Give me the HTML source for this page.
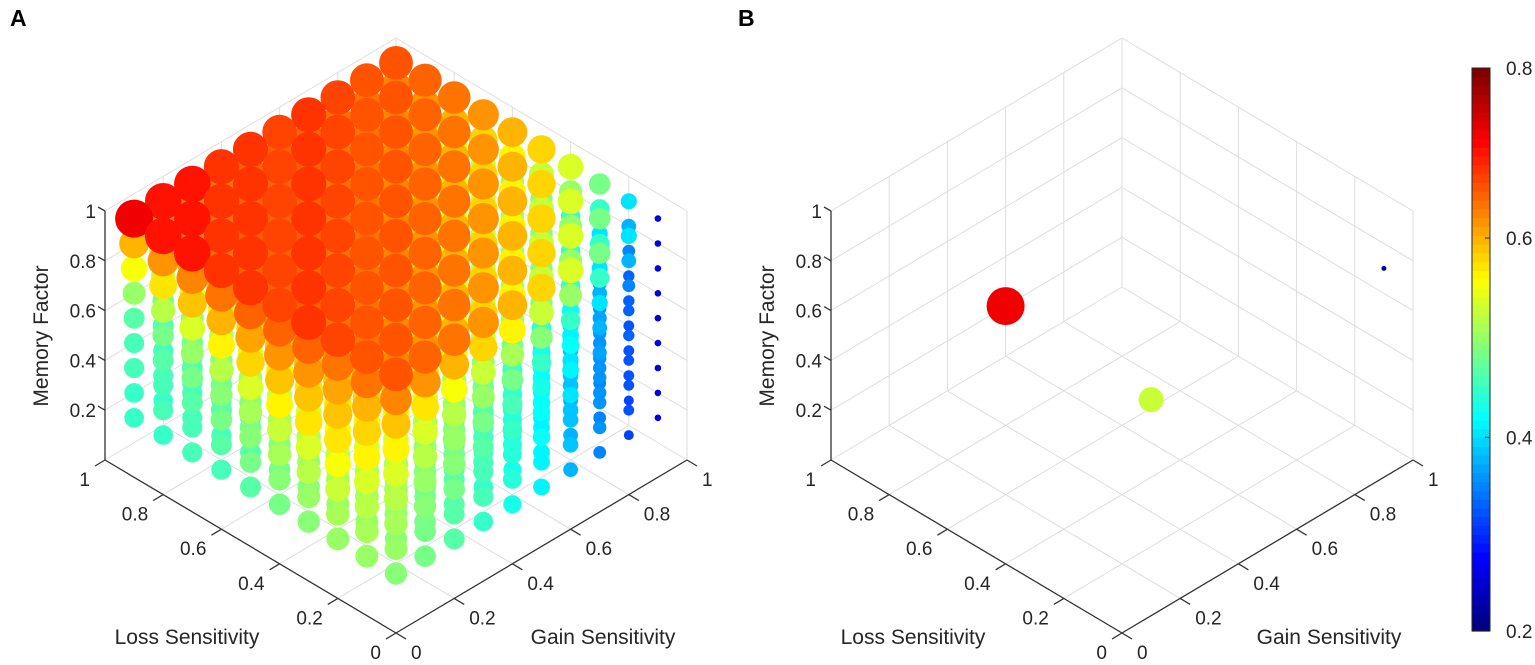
<!DOCTYPE html>
<html><head><meta charset="utf-8"><style>
html,body{margin:0;padding:0;background:#fff;}
svg{display:block;font-family:"Liberation Sans",Arial,sans-serif;}
</style></head><body>
<svg id="fig" width="1535" height="665" viewBox="0 0 1535 665" xmlns="http://www.w3.org/2000/svg">
<text x="10" y="26" font-size="23" font-weight="bold" fill="#000">A</text>
<text x="738" y="26" font-size="23" font-weight="bold" fill="#000">B</text>
<g id="pa"></g>
<g id="pb"></g>
<g id="cb"></g>
</svg>
<script>
// ---- data ----
const lossLevels = [0.1,0.2,0.3,0.4,0.5,0.6,0.7,0.8,0.9,1.0];
const gainLevels = [0.1,0.2,0.3,0.4,0.5,0.6,0.7,0.8,0.9,1.0];
const memoryLevels = [0.1,0.2,0.3,0.4,0.5,0.6,0.7,0.8,0.9];
// rows: memory 0.1..0.9 ; columns: (gain - loss) = -0.9 .. 0.9
const valuesByMemoryAndDiff = [
 [.45,.45,.46,.46,.47,.48,.49,.50,.50,.49,.48,.47,.45,.43,.41,.38,.35,.31,.26],
 [.45,.46,.46,.47,.48,.49,.50,.51,.51,.50,.48,.47,.46,.44,.41,.39,.36,.32,.26],
 [.46,.46,.47,.48,.49,.51,.52,.53,.52,.51,.49,.48,.46,.44,.42,.39,.36,.32,.26],
 [.46,.47,.48,.49,.51,.53,.54,.55,.54,.52,.50,.49,.47,.45,.42,.40,.36,.32,.26],
 [.47,.48,.50,.52,.54,.56,.57,.57,.56,.54,.52,.50,.48,.46,.43,.41,.37,.33,.26],
 [.50,.52,.54,.56,.58,.59,.59,.59,.58,.56,.54,.52,.50,.48,.45,.42,.38,.33,.26],
 [.55,.57,.59,.60,.61,.62,.62,.61,.60,.59,.57,.55,.53,.51,.49,.45,.40,.35,.26],
 [.60,.62,.63,.64,.65,.65,.65,.64,.64,.63,.62,.60,.58,.56,.53,.50,.45,.38,.26],
 [.72,.70,.70,.68,.68,.67,.68,.67,.66,.66,.65,.64,.62,.60,.58,.54,.48,.40,.26]
];
// panel B points
const bLoss = [0.9, 0.2, 0.1];
const bGain = [0.5, 0.3, 1.0];
const bMemory = [0.34, 0.59, 0.70];
const bValue = [0.72, 0.53, 0.22];
// axis ticks
const axisTicks = [0,0.2,0.4,0.6,0.8,1];
const axisTickLabels = ["0","0.2","0.4","0.6","0.8","1"];
const memTicks = [0.2,0.4,0.6,0.8,1];
const memTickLabels = ["0.2","0.4","0.6","0.8","1"];
const cbTicks = [0.2,0.4,0.6,0.8];
const cbTickLabels = ["0.2","0.4","0.6","0.8"];
const cbTickFrac = [0,0.344,0.698,1];

const NS="http://www.w3.org/2000/svg";
function mk(tag,attrs,parent){const e=document.createElementNS(NS,tag);for(const k in attrs)e.setAttribute(k,attrs[k]);parent.appendChild(e);return e;}
function clamp(x){return Math.max(0,Math.min(1,x));}
function valToFrac(v){
  for(let i=0;i<cbTicks.length-1;i++){
    if(v<=cbTicks[i+1]||i===cbTicks.length-2){
      const t=(v-cbTicks[i])/(cbTicks[i+1]-cbTicks[i]);
      return clamp(cbTickFrac[i]+t*(cbTickFrac[i+1]-cbTickFrac[i]));
    }
  }
}
function jet(f){
  f=Math.min(63,Math.floor(f*64))/63;
  const r=clamp(1.5-Math.abs(4*f-3)),g=clamp(1.5-Math.abs(4*f-2)),b=clamp(1.5-Math.abs(4*f-1));
  return `rgb(${Math.round(r*255)},${Math.round(g*255)},${Math.round(b*255)})`;
}
function radius(v){return Math.max(2.5,3+(v-0.25)*34);}

function makeProj(ox,oy){
  return (l,g,m)=>[ox+291*(g-l), oy-173*(g+l)-249*m];
}

function drawAxes(parent,P,prefix){
  const grid=mk('g',{},parent);
  
  
  const gs={stroke:'#dedede','stroke-width':1,fill:'none'};
  function ln(a,b,par,st){const e=mk('line',Object.assign({x1:a[0],y1:a[1],x2:b[0],y2:b[1]},st),par);return e;}
  axisTicks.forEach(t=>{
    ln(P(t,0,0),P(t,1,0),grid,gs); ln(P(0,t,0),P(1,t,0),grid,gs);
    ln(P(1,t,0),P(1,t,1),grid,gs);
    ln(P(t,1,0),P(t,1,1),grid,gs);
  });
  memTicks.forEach(t=>{ ln(P(1,0,t),P(1,1,t),grid,gs); ln(P(0,1,t),P(1,1,t),grid,gs); });
  const ax=mk('g',{},parent);
  
  
  const as={stroke:'#333','stroke-width':1.3};
  ln(P(1,0,0),P(1,0,1),ax,as);
  ln(P(1,0,0),P(0,0,0),ax,as);
  ln(P(0,0,0),P(0,1,0),ax,as);
  const ts={'font-size':19,fill:'#262626'};
  axisTicks.forEach((t,i)=>{
    const p=P(t,0,0); ln(p,[p[0]-10,p[1]+6],ax,as);
    const tl=mk('text',Object.assign({x:p[0]-15,y:p[1]+26,'text-anchor':'end'},ts),ax);
    tl.textContent=axisTickLabels[i];
    
    
    const q=P(0,t,0); ln(q,[q[0]+10,q[1]+6],ax,as);
    const tg=mk('text',Object.assign({x:q[0]+15,y:q[1]+26,'text-anchor':'start'},ts),ax);
    tg.textContent=axisTickLabels[i];
    
    
  });
  memTicks.forEach((t,i)=>{
    const p=P(1,0,t); ln(p,[p[0]-7,p[1]-4],ax,as);
    const tm=mk('text',Object.assign({x:p[0]-9,y:p[1]+7,'text-anchor':'end'},ts),ax);
    tm.textContent=memTickLabels[i];
    
    
  });
  const o=P(0,0,0);
  const t1=mk('text',{x:o[0]-209,y:644,'text-anchor':'middle','font-size':21,fill:'#262626'},ax);
  t1.textContent='Loss Sensitivity';
  
  
  const t2=mk('text',{x:o[0]+207,y:644,'text-anchor':'middle','font-size':21,fill:'#262626'},ax);
  t2.textContent='Gain Sensitivity';
  
  
  const lx=o[0]-348;
  const t3=mk('text',{x:lx,y:336,'text-anchor':'middle','font-size':21,fill:'#262626',transform:`rotate(-90 ${lx} 336)`},ax);
  t3.textContent='Memory Factor';
  
  
}
function depth(l,g,m){return -(l+g)*233+m*184;}

// Panel A
const PA=makeProj(396,633);
const ga=document.getElementById('pa');
drawAxes(ga,PA,'panel-a');
const ptsA=[];
memoryLevels.forEach((m,mi)=>lossLevels.forEach((l,li)=>gainLevels.forEach((g,gi)=>{
  const di=gi-li+9;
  ptsA.push({l,g,m,v:valuesByMemoryAndDiff[mi][di]});
})));
ptsA.sort((a,b)=>depth(a.l,a.g,a.m)-depth(b.l,b.g,b.m));
const sa=mk('g',{},ga);


ptsA.forEach(p=>{
  const c=PA(p.l,p.g,p.m);
  const e=mk('circle',{cx:c[0].toFixed(1),cy:c[1].toFixed(1),r:radius(p.v).toFixed(1),fill:jet(valToFrac(p.v))},sa);
  
  
});

// Panel B
const PB=makeProj(1122,633);
const gb=document.getElementById('pb');
drawAxes(gb,PB,'panel-b');
const sb=mk('g',{},gb);


bLoss.forEach((l,i)=>{
  const c=PB(l,bGain[i],bMemory[i]);
  const e=mk('circle',{cx:c[0].toFixed(1),cy:c[1].toFixed(1),r:radius(bValue[i]).toFixed(1),fill:jet(valToFrac(bValue[i]))},sb);
  
  
});

// Colorbar
const cb=document.getElementById('cb');
const cx=1472,cw=18,ctop=68,cbot=631;
for(let k=0;k<64;k++){
  const y0=cbot-(k+1)*(cbot-ctop)/64;
  mk('rect',{x:cx,y:y0.toFixed(2),width:cw,height:((cbot-ctop)/64+0.6).toFixed(2),fill:jet((k+0.5)/64)},cb);
}
const frame=mk('rect',{x:cx,y:ctop,width:cw,height:cbot-ctop,fill:'none',stroke:'#262626','stroke-width':1},cb);


cbTicks.forEach((t,i)=>{
  const y=cbot-cbTickFrac[i]*(cbot-ctop);
  mk('line',{x1:cx+cw-5,y1:y,x2:cx+cw,y2:y,stroke:'#262626'},cb);
  const tx=mk('text',{x:cx+cw+16,y:y+7,'font-size':19,fill:'#262626'},cb);
  tx.textContent=cbTickLabels[i];
  
  
});
</script>
</body></html>
